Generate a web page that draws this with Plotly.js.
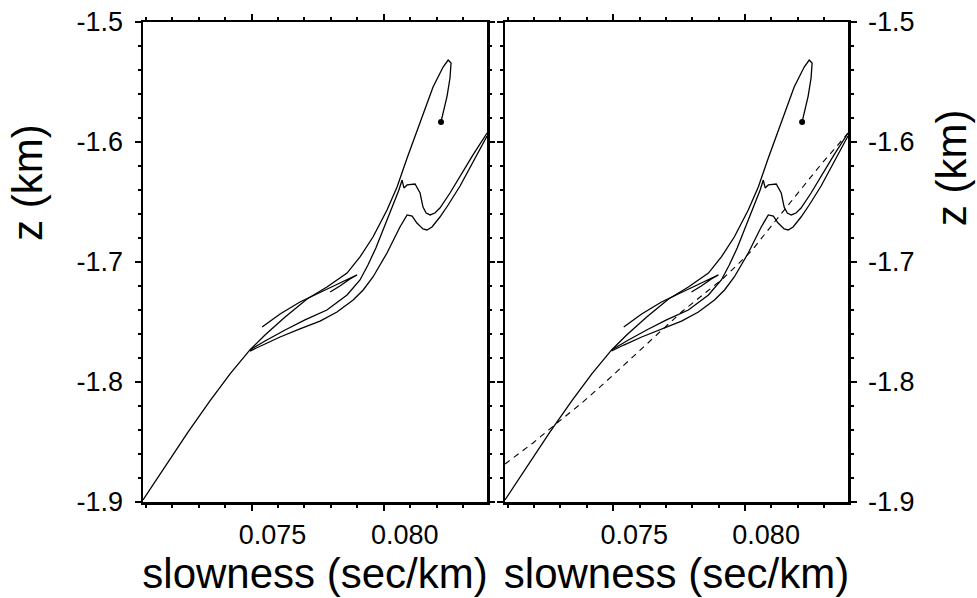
<!DOCTYPE html>
<html><head><meta charset="utf-8">
<script src="https://cdn.plot.ly/plotly-3.0.1.min.js"></script>
<style>html,body{margin:0;padding:0;background:#fff;}</style>
</head><body>
<div id="chart" style="width:977px;height:598px;"></div>
<script>
// ---- data ----
const xTickVals = [0.075, 0.080];
const xTickText = ['0.075', '0.080'];
const yTickVals = [-1.9, -1.8, -1.7, -1.6, -1.5];
const yTickText = ['-1.9', '-1.8', '-1.7', '-1.6', '-1.5'];
const xTitle = 'slowness (sec/km)';
const yTitle = 'z (km)';

// main curve: trunk, up to the cusp, back down to the end point
const topX = [0.07090,0.07173,0.07260,0.07343,0.07419,0.07494,0.07551,0.07627,0.07710,0.07785,0.07861,0.07910,0.07959,0.08012,0.08050,0.08088,0.08137,0.08186,0.08224,0.08243,0.08254,0.08250,0.08239,0.08228,0.08216];
const topY = [-1.8983,-1.8708,-1.8417,-1.8158,-1.7933,-1.7733,-1.7608,-1.7458,-1.7308,-1.7208,-1.7092,-1.6958,-1.6792,-1.6567,-1.6375,-1.6133,-1.5842,-1.5542,-1.5375,-1.5317,-1.5342,-1.5467,-1.5617,-1.5733,-1.5833];

// short narrow-loop branch
const loopX = [0.07540,0.07608,0.07683,0.07759,0.07834,0.07899,0.07872,0.07834,0.07797];
const loopY = [-1.7542,-1.7433,-1.7333,-1.7250,-1.7175,-1.7108,-1.7142,-1.7200,-1.7250];

// middle branch with spike
const midX = [0.07494,0.07551,0.07627,0.07702,0.07785,0.07861,0.07910,0.07940,0.07970,0.08004,0.08035,0.08057,0.08069,0.08076,0.08088,0.08118,0.08137,0.08148,0.08160,0.08175,0.08193,0.08212,0.08250,0.08288,0.08337,0.08390];
const midY = [-1.7733,-1.7658,-1.7567,-1.7483,-1.7400,-1.7275,-1.7150,-1.7025,-1.6883,-1.6700,-1.6517,-1.6400,-1.6317,-1.6383,-1.6358,-1.6350,-1.6425,-1.6542,-1.6592,-1.6608,-1.6592,-1.6550,-1.6425,-1.6283,-1.6108,-1.5925];

// lower branch with bump
const lowX = [0.07494,0.07540,0.07608,0.07683,0.07759,0.07823,0.07884,0.07922,0.07959,0.08012,0.08061,0.08088,0.08107,0.08125,0.08148,0.08163,0.08182,0.08212,0.08243,0.08288,0.08337,0.08390];
const lowY = [-1.7742,-1.7692,-1.7625,-1.7558,-1.7492,-1.7417,-1.7317,-1.7233,-1.7125,-1.6925,-1.6708,-1.6608,-1.6617,-1.6675,-1.6725,-1.6733,-1.6708,-1.6625,-1.6525,-1.6367,-1.6167,-1.5950];

// dashed reference curve (right panel only)
const dashX = [0.07090,0.07196,0.07287,0.07381,0.07475,0.07570,0.07664,0.07759,0.07853,0.07914,0.07978,0.08027,0.08072,0.08118,0.08167,0.08231,0.08292,0.08345,0.08390];
const dashY = [-1.8683,-1.8508,-1.8342,-1.8175,-1.7992,-1.7800,-1.7608,-1.7417,-1.7250,-1.7142,-1.7008,-1.6900,-1.6775,-1.6650,-1.6508,-1.6342,-1.6175,-1.6042,-1.5925];

const xRange = [0.0709, 0.0839];
const yRange = [-1.9, -1.5];
const xMinorStep = 0.001;
const yMinorStep = 0.02;

// ---- traces ----
const solid = {color:'#000', width:1.3};
function panel(xa, ya) {
  return [
    {x: topX, y: topY, mode:'lines', line: solid, xaxis: xa, yaxis: ya},
    {x: loopX, y: loopY, mode:'lines', line: solid, xaxis: xa, yaxis: ya},
    {x: midX, y: midY, mode:'lines', line: solid, xaxis: xa, yaxis: ya},
    {x: lowX, y: lowY, mode:'lines', line: solid, xaxis: xa, yaxis: ya},
    {x: [topX[topX.length-1]], y: [topY[topY.length-1]], mode:'markers',
     marker:{color:'#000', size:6}, xaxis: xa, yaxis: ya}
  ];
}
const traces = panel('x','y').concat(panel('x2','y2'));
traces.push({x: dashX, y: dashY, mode:'lines', line:{color:'#000', width:1.1, dash:'6px,5px'}, xaxis:'x2', yaxis:'y2'});
// empty traces so the tick-only frame axes (top / inner sides) get drawn
[['x3','y'],['x5','y'],['x4','y2'],['x6','y2'],['x','y3'],['x','y5'],['x2','y4'],['x2','y6']].forEach(function(p){
  traces.push({x: [], y: [], mode:'lines', xaxis: p[0], yaxis: p[1], hoverinfo:'skip'});
});

// ---- layout ----
const FONT = 'Liberation Sans, Arial, Helvetica, sans-serif';
const tickFont = {family: FONT, size: 27, color: '#000'};
const titleFont = {family: FONT, size: 42, color: '#000'};
function axBase() {
  return {showline:true, linecolor:'#000', linewidth:2.5, mirror:true,
    ticks:'outside', ticklen:6, tickwidth:2, tickcolor:'#000',
    showgrid:false, zeroline:false, tickfont: tickFont, fixedrange:true};
}
function xMinor() { return {tickmode:'linear', tick0:0.070, dtick:xMinorStep, ticks:'outside', ticklen:3, tickwidth:2, tickcolor:'#000'}; }
function yMinor() { return {tickmode:'linear', tick0:-1.5, dtick:yMinorStep, ticks:'outside', ticklen:3, tickwidth:2, tickcolor:'#000'}; }
function xAx(domain, anchor) {
  return Object.assign(axBase(), {
    domain: domain, anchor: anchor, range: xRange,
    tickmode:'array', tickvals: xTickVals, ticktext: xTickText,
    ticklabelshift: 21, ticklabelstandoff: 1,
    minor: xMinor(),
    title:{text: xTitle, font: titleFont, standoff: 0}
  });
}
function yAx(anchor, side) {
  return Object.assign(axBase(), {
    domain:[0,1], anchor: anchor, side: side, range: yRange,
    tickmode:'array', tickvals: yTickVals, ticktext: yTickText,
    ticklabelstandoff: 6,
    minor: yMinor()
  });
}
// tick-only axes for the mirrored frame sides (major and minor drawn separately)
function tickOnly(over, anchor, side, isX, minor) {
  const a = {overlaying: over, anchor: anchor, side: side,
    range: isX ? xRange : yRange, showline:false, showgrid:false, zeroline:false,
    showticklabels:false, ticks:'outside', ticklen: minor ? 4 : 7, tickwidth:2, tickcolor:'#000',
    fixedrange:true};
  if (minor) { a.tickmode = 'linear'; a.tick0 = isX ? 0.070 : -1.5; a.dtick = isX ? xMinorStep : yMinorStep; }
  else { a.tickmode = 'array'; a.tickvals = isX ? xTickVals : yTickVals; }
  return a;
}
const layout = {
  width: 977, height: 598,
  margin: {l:143, r:129, t:22, b:96, pad:0},
  paper_bgcolor:'#fff', plot_bgcolor:'#fff',
  showlegend: false,
  font: {family: FONT, color:'#000'},
  xaxis: xAx([0, 0.488], 'y'),
  xaxis2: xAx([0.5135, 1], 'y2'),
  yaxis: yAx('x', 'left'),
  yaxis2: yAx('x2', 'right'),
  xaxis3: tickOnly('x', 'y', 'top', true, false),
  xaxis5: tickOnly('x', 'y', 'top', true, true),
  xaxis4: tickOnly('x2', 'y2', 'top', true, false),
  xaxis6: tickOnly('x2', 'y2', 'top', true, true),
  yaxis3: tickOnly('y', 'x', 'right', false, false),
  yaxis5: tickOnly('y', 'x', 'right', false, true),
  yaxis4: tickOnly('y2', 'x2', 'left', false, false),
  yaxis6: tickOnly('y2', 'x2', 'left', false, true),
  annotations: [
    {text: yTitle, xref:'paper', yref:'paper', x:-0.163, y:0.665, textangle:-90,
     showarrow:false, font: titleFont, xanchor:'center', yanchor:'middle'},
    {text: yTitle, xref:'paper', yref:'paper', x:1.148, y:0.696, textangle:-90,
     showarrow:false, font: titleFont, xanchor:'center', yanchor:'middle'}
  ]
};
Plotly.newPlot('chart', traces, layout, {displayModeBar:false, staticPlot:true});
</script>
</body></html>
